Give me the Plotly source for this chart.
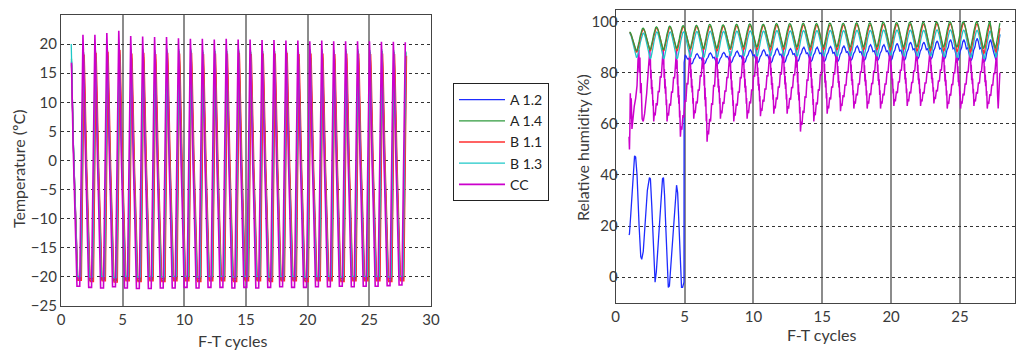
import plotly.graph_objects as go

# ---------------- data ----------------
SERIES = ["A 1.2", "A 1.4", "B 1.1", "B 1.3", "CC"]
COLORS = ["#1e2cff", "#2f9a3c", "#ff2f2f", "#1ec8c8", "#cc00cc"]

# ---- Temperature chart: 28 cycle peaks (x = first + period*k), trough before each peak
T_FIRST_PEAK = 1.78
T_PERIOD = 0.968
T_START_X = [0.85, 0.85, 0.85, 0.83, 0.85]
T_START_V = [17.0, 17.5, 16.5, 20.0, 16.8]
T_LAG = [0.07, 0.05, 0.10, 0.03, 0.0]

A12_T_peak = [17.5, 17.8, 18.0, 18.2, 17.6, 17.8, 17.5, 17.9, 17.6, 17.8, 17.5, 17.7, 17.6, 17.8,
              17.5, 17.7, 17.6, 17.8, 17.5, 17.6, 17.7, 17.5, 17.6, 17.7, 17.5, 17.6, 17.5, 17.4]
A14_T_peak = [18.6, 18.9, 19.0, 19.3, 18.8, 18.9, 18.7, 18.9, 18.8, 18.9, 18.7, 18.8, 18.8, 18.9,
              18.7, 18.8, 18.8, 18.9, 18.7, 18.8, 18.8, 18.7, 18.8, 18.8, 18.7, 18.8, 18.7, 18.6]
B11_T_peak = [18.2, 18.5, 18.7, 19.0, 18.4, 18.5, 18.3, 18.5, 18.4, 18.5, 18.3, 18.4, 18.4, 18.5,
              18.3, 18.4, 18.4, 18.5, 18.3, 18.4, 18.4, 18.3, 18.4, 18.4, 18.3, 18.4, 18.3, 18.0]
B13_T_peak = [19.0, 19.3, 19.4, 19.6, 19.1, 19.2, 19.0, 19.2, 19.1, 19.2, 19.0, 19.1, 19.1, 19.2,
              19.0, 19.1, 19.1, 19.2, 19.0, 19.1, 19.1, 19.0, 19.1, 19.1, 19.0, 19.1, 19.0, 18.8]
CC_T_peak = [21.6, 21.6, 21.9, 22.3, 21.4, 21.3, 21.2, 21.2, 21.0, 20.9, 20.9, 20.8, 20.9, 20.8,
             20.8, 20.7, 20.7, 20.6, 20.6, 20.5, 20.6, 20.5, 20.5, 20.5, 20.5, 20.4, 20.4, 20.3]

A12_T_trough = [-20.2, -20.3, -20.2, -20.4, -20.2, -20.3, -20.2, -20.3, -20.2, -20.2, -20.3, -20.2, -20.2, -20.3,
                -20.2, -20.2, -20.3, -20.2, -20.2, -20.3, -20.2, -20.2, -20.3, -20.2, -20.2, -20.2, -20.3, -20.2]
A14_T_trough = [-20.5, -20.6, -20.5, -20.7, -20.5, -20.6, -20.5, -20.6, -20.5, -20.5, -20.6, -20.5, -20.5, -20.6,
                -20.5, -20.5, -20.6, -20.5, -20.5, -20.6, -20.5, -20.5, -20.6, -20.5, -20.5, -20.5, -20.6, -20.5]
B11_T_trough = [-20.6, -20.8, -20.7, -20.9, -20.7, -20.8, -20.7, -20.8, -20.7, -20.7, -20.8, -20.7, -20.7, -20.8,
                -20.7, -20.7, -20.8, -20.7, -20.7, -20.8, -20.7, -20.7, -20.8, -20.7, -20.7, -20.7, -20.8, -20.7]
B13_T_trough = [-19.9, -20.0, -19.9, -20.1, -19.9, -20.0, -19.9, -20.0, -19.9, -19.9, -20.0, -19.9, -19.9, -20.0,
                -19.9, -19.9, -20.0, -19.9, -19.9, -20.0, -19.9, -19.9, -20.0, -19.9, -19.9, -19.9, -20.0, -19.9]
CC_T_trough = [-21.6, -21.8, -21.9, -21.7, -21.9, -22.0, -22.0, -21.9, -21.9, -21.8, -21.9, -21.8, -21.8, -21.9,
               -21.8, -21.9, -21.8, -21.7, -21.8, -21.8, -21.7, -21.7, -21.6, -21.7, -21.6, -21.6, -21.5, -21.4]

# shape of one temperature cycle (offset in cycle, fraction trough->peak, which peak)
T_SHAPE = [(0.03, 0.95, "d"), (0.08, 0.80, "d"), (0.15, 0.62, "d"), (0.22, 0.50, "d"),
           (0.30, 0.36, "d"), (0.38, 0.18, "d"), (0.45, 0.05, "d"), (0.50, 0.0, "d"),
           (0.78, 0.0, "u"), (0.83, 0.25, "u"), (0.89, 0.66, "u"), (0.95, 0.93, "u")]
CC_T_SHAPE = [(0.03, 0.95, "d"), (0.08, 0.80, "d"), (0.15, 0.62, "d"), (0.22, 0.50, "d"),
              (0.30, 0.36, "d"), (0.38, 0.18, "d"), (0.45, 0.05, "d"), (0.48, 0.0, "d"),
              (0.72, 0.0, "u"), (0.74, 0.08, "u"), (0.82, 0.45, "u"), (0.90, 0.82, "u"),
              (0.95, 0.96, "u")]

# ---- Relative humidity chart: 27 cycle peaks (x = first + period*k)
H_FIRST_PEAK = 1.99
H_PERIOD = 0.969
H_LAG = [0.05, 0.0, 0.02, 0.03]

A14_H_start = (1.0, 96.0)
B11_H_start = (1.0, 95.8)
B13_H_start = (1.0, 95.5)
A14_H_peak = [97.5, 98.0, 98.3, 98.5, 98.6, 99.0, 98.8, 99.0, 99.2, 99.0, 99.3, 99.3, 99.4, 99.3,
              99.5, 99.4, 99.6, 99.6, 99.8, 99.7, 99.8, 99.8, 99.9, 100.0, 100.0, 99.9, 100.0]
A14_H_trough = [88.5, 89.0, 89.0, 89.5, 89.5, 89.5, 89.5, 89.5, 90.0, 90.0, 90.0, 90.0, 90.0, 90.0,
                90.0, 90.0, 90.0, 90.0, 90.0, 90.0, 90.0, 90.0, 89.5, 90.0, 90.0, 89.5, 89.5]
B11_H_peak = [97.0, 97.5, 97.8, 98.0, 98.0, 98.3, 98.2, 98.3, 98.5, 98.5, 98.6, 98.5, 98.7, 98.6,
              98.8, 98.7, 98.9, 98.8, 99.0, 99.0, 99.0, 99.0, 99.2, 99.2, 99.3, 99.1, 99.0]
B11_H_trough = [88.0, 88.5, 88.5, 88.5, 89.0, 89.0, 88.5, 89.0, 89.0, 89.0, 88.8, 89.0, 89.0, 88.8,
                89.0, 89.0, 88.5, 89.0, 89.0, 88.8, 89.0, 88.5, 88.5, 88.5, 88.3, 88.0, 87.5]
B13_H_peak = [95.5, 96.0, 96.0, 96.0, 96.2, 96.3, 96.2, 96.3, 96.4, 96.3, 96.5, 96.4, 96.5, 96.5,
              96.6, 96.5, 96.6, 96.6, 96.7, 96.7, 96.7, 96.6, 96.8, 96.8, 96.7, 96.6, 96.5]
B13_H_trough = [86.0, 85.5, 85.5, 85.5, 86.0, 86.0, 86.0, 86.5, 86.5, 86.5, 86.5, 86.5, 86.5, 86.5,
                86.5, 86.5, 86.5, 86.5, 86.5, 86.8, 86.5, 86.5, 86.5, 86.3, 86.0, 86.0, 85.5]
A14_H_tail_x = [27.4, 27.6, 27.75, 27.9]
A14_H_tail_y = [93.0, 89.5, 94.0, 99.5]
B11_H_tail_x = [27.42, 27.62, 27.77, 27.9]
B11_H_tail_y = [92.0, 88.0, 92.0, 97.5]
B13_H_tail_x = [27.43, 27.63, 27.78, 27.9]
B13_H_tail_y = [91.0, 86.0, 90.0, 95.0]

# A 1.2 before the jump at cycle 5 (explicit readings)
A12_H_head_x = [0.97, 1.0, 1.1, 1.2, 1.3, 1.37, 1.45, 1.55, 1.7, 1.82, 1.89, 2.0, 2.15, 2.3, 2.45,
                2.52, 2.62, 2.72, 2.82, 2.86, 2.95, 3.1, 3.25, 3.4, 3.47, 3.55, 3.65, 3.75, 3.82,
                3.9, 4.05, 4.2, 4.35, 4.42, 4.5, 4.6, 4.7, 4.78, 4.86, 4.96, 4.97, 5.05]
A12_H_head_y = [16.5, 17.0, 25.0, 35.0, 44.0, 47.5, 47.0, 40.0, 20.0, 8.0, 7.0, 10.0, 22.0, 34.0,
                39.0, 38.5, 28.0, 12.0, 0.0, -2.0, 2.0, 15.0, 30.0, 38.5, 39.0, 32.0, 18.0, 2.0,
                -4.0, -3.5, 8.0, 22.0, 34.0, 36.0, 33.0, 20.0, 5.0, -4.0, -4.0, -2.0, 84.0, 87.0]
A12_H_first_cycle = 4
A12_H_peak = [87.5, 87.8, 88.0, 88.5, 89.0, 89.0, 89.5, 89.5, 90.0, 90.0, 90.3, 90.5, 90.5, 91.0,
              91.0, 91.5, 92.0, 92.0, 92.5, 93.0, 93.0, 93.5, 93.0]
A12_H_trough = [83.5, 83.5, 83.5, 84.0, 84.0, 84.0, 84.0, 84.0, 84.5, 84.5, 84.5, 84.5, 85.0, 85.0,
                85.0, 85.0, 85.0, 85.5, 85.5, 85.5, 85.0, 85.0, 84.5]
A12_H_tail_x = [27.45, 27.62, 27.78, 27.9]
A12_H_tail_y = [88.0, 85.0, 90.0, 95.0]

# smooth (sine-like) humidity cycle
H_SHAPE = [(0.06, 0.97, "d"), (0.14, 0.84, "d"), (0.22, 0.64, "d"), (0.30, 0.40, "d"),
           (0.38, 0.18, "d"), (0.45, 0.04, "d"), (0.50, 0.0, "d"), (0.56, 0.04, "u"),
           (0.63, 0.18, "u"), (0.71, 0.42, "u"), (0.79, 0.66, "u"), (0.87, 0.86, "u"),
           (0.94, 0.97, "u")]
# A 1.2 has a small double bump per cycle
A12_SHAPE = [(0.08, 0.85, "d"), (0.18, 0.55, "d"), (0.28, 0.60, "d"), (0.38, 0.25, "d"),
             (0.48, 0.02, "d"), (0.55, 0.0, "d"), (0.62, 0.10, "u"), (0.72, 0.45, "u"),
             (0.82, 0.60, "u"), (0.90, 0.88, "u")]

# CC humidity: explicit start, then 27 peaks at CC_H_FIRST + period*k, jagged shape
CC_H_head_x = [0.97, 1.0, 1.03, 1.06, 1.1, 1.13, 1.18, 1.25, 1.35, 1.45, 1.55, 1.62, 1.68, 1.72,
               1.76, 1.8, 1.85, 1.92, 2.0, 2.1, 2.25, 2.38]
CC_H_head_y = [55.0, 50.0, 58.0, 72.0, 62.0, 70.0, 58.0, 63.0, 67.0, 70.0, 75.0, 85.0, 89.0, 80.0,
               86.0, 72.0, 76.0, 62.0, 61.0, 64.0, 72.0, 82.0]
CC_H_FIRST = 2.48
CC_H_peak = [89.0, 89.5, 89.0, 89.0, 89.5, 89.0, 88.5, 89.0, 89.5, 89.0, 89.5, 89.0, 90.0, 91.0,
             89.5, 90.0, 89.5, 90.0, 89.5, 90.0, 89.5, 89.0, 89.5, 89.0, 89.5, 89.0, 88.5]
CC_H_trough = [61.0, 61.0, 55.0, 62.0, 53.0, 62.0, 61.0, 62.0, 63.0, 64.0, 64.0, 57.0, 61.0, 64.0,
               65.0, 66.0, 66.0, 66.0, 67.0, 67.0, 67.0, 68.0, 66.0, 66.0, 67.0, 66.0]
CC_H_tail_x = [27.73, 27.78, 27.9]
CC_H_tail_y = [72.0, 66.0, 80.0]
CC_SHAPE = [(0.02, 0.78, "d"), (0.04, 0.88, "d"), (0.07, 0.60, "d"), (0.09, 0.72, "d"),
            (0.12, 0.45, "d"), (0.14, 0.58, "d"), (0.17, 0.38, "d"), (0.19, 0.48, "d"),
            (0.23, 0.22, "d"), (0.25, 0.30, "d"), (0.29, 0.0, "d"), (0.34, 0.12, "u"),
            (0.40, 0.08, "u"), (0.48, 0.25, "u"), (0.55, 0.22, "u"), (0.63, 0.42, "u"),
            (0.70, 0.40, "u"), (0.78, 0.62, "u"), (0.85, 0.60, "u"), (0.93, 0.86, "u")]

X_TICKS_L = [0, 5, 10, 15, 20, 25, 30]
Y_TICKS_L = [-25, -20, -15, -10, -5, 0, 5, 10, 15, 20, 25]
X_TICKS_R = [0, 5, 10, 15, 20, 25]
Y_TICKS_R = [0, 20, 40, 60, 80, 100]


# ---------------- helpers ----------------
def cycle_points(anchor_x, anchor_y, troughs, shape):
    xs, ys = [], []
    for i in range(len(anchor_x) - 1):
        x0, v0, x1, v1 = anchor_x[i], anchor_y[i], anchor_x[i + 1], anchor_y[i + 1]
        tr = troughs[i]
        d = x1 - x0
        xs.append(x0)
        ys.append(v0)
        for off, frac, side in shape:
            top = v0 if side == "d" else v1
            xs.append(x0 + off * d)
            ys.append(tr + frac * (top - tr))
    xs.append(anchor_x[-1])
    ys.append(anchor_y[-1])
    return xs, ys


fig = go.Figure()

# ---- temperature traces
t_peaks = [A12_T_peak, A14_T_peak, B11_T_peak, B13_T_peak, CC_T_peak]
t_troughs = [A12_T_trough, A14_T_trough, B11_T_trough, B13_T_trough, CC_T_trough]
for i, name in enumerate(SERIES):
    px = [T_START_X[i]] + [T_FIRST_PEAK + T_LAG[i] + T_PERIOD * k for k in range(len(t_peaks[i]))]
    py = [T_START_V[i]] + t_peaks[i]
    shape = CC_T_SHAPE if name == "CC" else T_SHAPE
    xs, ys = cycle_points(px, py, t_troughs[i], shape)
    fig.add_trace(go.Scatter(x=xs, y=ys, mode="lines", name=name,
                             line=dict(color=COLORS[i], width=1.6 if name == "CC" else 1.3),
                             xaxis="x", yaxis="y", legendgroup=name))

# ---- humidity traces
a12x = [H_FIRST_PEAK + H_LAG[0] + H_PERIOD * (A12_H_first_cycle + k) for k in range(len(A12_H_peak))]
xs, ys = cycle_points([A12_H_head_x[-1]] + a12x, [A12_H_head_y[-1]] + A12_H_peak, A12_H_trough, A12_SHAPE)
xs = A12_H_head_x[:-1] + xs + A12_H_tail_x
ys = A12_H_head_y[:-1] + ys + A12_H_tail_y
h_traces = {"A 1.2": (xs, ys)}
for j, (name, start, pk, tr, tx, ty) in enumerate([
        ("A 1.4", A14_H_start, A14_H_peak, A14_H_trough, A14_H_tail_x, A14_H_tail_y),
        ("B 1.1", B11_H_start, B11_H_peak, B11_H_trough, B11_H_tail_x, B11_H_tail_y),
        ("B 1.3", B13_H_start, B13_H_peak, B13_H_trough, B13_H_tail_x, B13_H_tail_y)]):
    lag = H_LAG[j + 1]
    px = [start[0]] + [H_FIRST_PEAK + lag + H_PERIOD * k for k in range(len(pk))]
    py = [start[1]] + pk
    xs, ys = cycle_points(px, py, tr, H_SHAPE)
    h_traces[name] = (xs + tx, ys + ty)
ccx = [CC_H_FIRST + H_PERIOD * k for k in range(len(CC_H_peak))]
xs, ys = cycle_points(ccx, CC_H_peak, CC_H_trough, CC_SHAPE)
h_traces["CC"] = (CC_H_head_x + xs + CC_H_tail_x, CC_H_head_y + ys + CC_H_tail_y)

H_ORDER = ["A 1.2", "CC", "B 1.3", "B 1.1", "A 1.4"]
for name in H_ORDER:
    i = SERIES.index(name)
    xs, ys = h_traces[name]
    fig.add_trace(go.Scatter(x=xs, y=ys, mode="lines", name=name, showlegend=False,
                             line=dict(color=COLORS[i], width=1.5 if name == "CC" else 1.3),
                             xaxis="x2", yaxis="y2", legendgroup=name))

# the page body adds an 8px margin, so the figure is drawn from (8, 8)
OFF = 8
W, H = 1008, 342
FONT = "Lato, 'Open Sans', sans-serif"
TXT = "#3a3a3a"


def px_x(p):
    return (p - OFF) / W


def px_y(p):
    return 1 - (p - OFF) / H


common_x = dict(showgrid=True, gridcolor="#8c8c8c", gridwidth=1.5, zeroline=False,
                showline=True, linecolor="#444", linewidth=1.2, mirror=True, ticks="",
                automargin=False, tickfont=dict(family=FONT, size=15, color=TXT))
common_y = dict(showgrid=True, gridcolor="#333", gridwidth=1, griddash="dot", zeroline=False,
                showline=True, linecolor="#444", linewidth=1.2, mirror=True, ticks="",
                automargin=False, tickfont=dict(family=FONT, size=15, color=TXT))


def label(text, x, y, angle=0):
    return dict(text=text, x=px_x(x), y=px_y(y), xref="paper", yref="paper",
                xanchor="center", yanchor="middle", showarrow=False, textangle=angle,
                font=dict(family=FONT, size=16, color=TXT))


fig.update_layout(
    width=W, height=H, margin=dict(l=0, r=0, t=0, b=0, autoexpand=False),
    paper_bgcolor="white", plot_bgcolor="white",
    showlegend=True,
    xaxis=dict(domain=[px_x(61), px_x(431)], range=[0, 30], tickvals=X_TICKS_L, **common_x),
    yaxis=dict(domain=[px_y(306), px_y(15)], range=[-25, 25], tickvals=Y_TICKS_L, **common_y),
    xaxis2=dict(domain=[px_x(615.7), px_x(1015)], range=[0, 29], tickvals=X_TICKS_R,
                anchor="y2", **common_x),
    yaxis2=dict(domain=[px_y(302.7), px_y(10)], range=[-10, 104.6], tickvals=Y_TICKS_R,
                anchor="x2", ticklabelstandoff=-6, **common_y),
    legend=dict(x=px_x(453), y=px_y(83), xanchor="left", yanchor="top",
                bordercolor="#222", borderwidth=1, bgcolor="white", itemwidth=46,
                font=dict(family=FONT, size=14, color="#222"), tracegroupgap=0),
    annotations=[
        label("Temperature (ºC)", 18, 169, -90),
        label("F-T cycles", 232, 340),
        label("Relative humidity (%)", 582, 148, -90),
        label("F-T cycles", 821, 334),
    ],
)

fig.write_html("out.html")
